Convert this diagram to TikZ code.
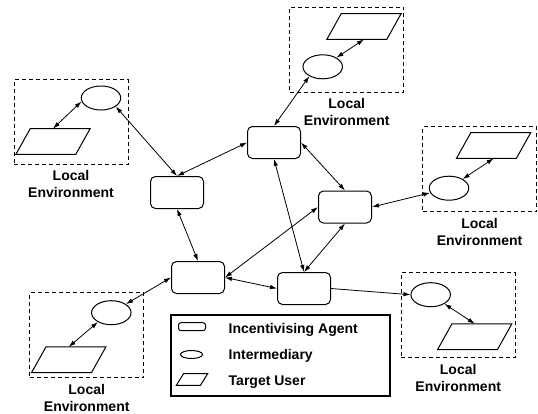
\documentclass[tikz,border=0pt]{standalone}
\usepackage{fontspec}
\setmainfont{Liberation Sans}
\usetikzlibrary{shapes.geometric,positioning,arrows.meta}

\begin{document}
\begin{tikzpicture}[x=1pt, y=-1pt, on grid, line width=0.8pt,
	>={Latex[length=7pt,width=4.5pt]},
	agent/.style={draw, rounded corners=5pt, minimum width=53pt, minimum height=32pt, inner sep=0pt, line width=1pt},
	inter/.style={draw, ellipse, minimum width=39.5pt, minimum height=24pt, inner sep=0pt, line width=1pt},
	user/.style={minimum width=73.5pt, minimum height=25pt, inner sep=0pt},
	envbox/.style={draw, dash pattern=on 4pt off 3pt, minimum width=114pt, minimum height=85pt, inner sep=0pt},
	envlabel/.style={align=center, font=\fontsize{14}{17}\selectfont\bfseries, inner sep=0pt},
	keytext/.style={anchor=base west, font=\fontsize{14}{17}\selectfont\bfseries, inner sep=0pt}]
	\useasboundingbox (0,0) rectangle (538,413);

	% agents
	\node[agent] (a2) at (274,142.5) {};
	\node[agent] (a1) [below left=50pt and 97pt of a2] {};
	\node[agent] (a3) [below right=64.5pt and 71pt of a2] {};
	\node[agent] (a4) [below right=85pt and 21pt of a1] {};
	\node[agent] (a5) [below right=11pt and 106pt of a4] {};

	% local environments
	\node[envbox] (le1) at (71,122) {};
	\node[inter] (le1i) [above right=24pt and 30pt of le1] {};
	\node[user] (le1u) [below left=19.5pt and 18pt of le1] {};
	\node[envlabel] (le1t) [below=5.5pt of le1.south] {Local\\Environment};

	\node[envbox] (le2) at (346.7,49.8) {};
	\node[inter] (le2i) [below left=17pt and 24pt of le2] {};
	\node[user] (le2u) [above right=23.3pt and 17.3pt of le2] {};
	\node[envlabel] (le2t) [below=5.5pt of le2.south] {Local\\Environment};

	\node[envbox] (le3) at (479.6,169.2) {};
	\node[inter] (le3i) [below left=19pt and 30.6pt of le3] {};
	\node[user] (le3u) [above right=23.7pt and 14pt of le3] {};
	\node[envlabel] (le3t) [below=5.5pt of le3.south] {Local\\Environment};

	\node[envbox] (le4) at (86.7,335.2) {};
	\node[inter] (le4i) [above right=22.5pt and 24.6pt of le4] {};
	\node[user] (le4u) [below left=24.6pt and 18pt of le4] {};
	\node[envlabel] (le4t) [below=5.5pt of le4.south] {Local\\Environment};

	\node[envbox] (le5) at (458.2,315.3) {};
	\node[inter] (le5i) [above left=20.6pt and 27.5pt of le5] {};
	\node[user] (le5u) [below right=21.4pt and 16.5pt of le5] {};
	\node[envlabel] (le5t) [below=5.5pt of le5.south] {Local\\Environment};

	% target users are slanted boxes
	\foreach \u in {le1u,le2u,le3u,le4u,le5u}
		\draw[line width=1pt] (\u.south west) -- ([xshift=14.4pt]\u.north west) -- (\u.north east) -- ([xshift=-14.4pt]\u.south east) -- cycle;

	% connectors
	\path[<->]
	(le1u.north) edge (le1i.190)
	(le1i.-30) edge (a1.north)
	(a1.north) edge (a2.west)
	(a1.south) edge (a4.north)
	(le2i.215) edge (a2.north)
	(le2i) edge (le2u.south)
	(a2.east) edge (a3.north)
	(a2.south) edge (a5.north)
	(a3.east) edge (le3i)
	(le3i) edge (le3u.south)
	(a3.west) edge (a4.east)
	(a3.south) edge (a5.north)
	(a4.east) edge (a5.west)
	(a4.west) edge (le4i)
	(le4i.215) edge (le4u.north)
	(le5i) edge (le5u.north);
	\draw[->] (a5.east) -- (le5i.west);

	% legend
	\node[draw, line width=1.1pt, minimum width=219pt, minimum height=81pt] (key) at (280.5,355.5) {};
	\node[agent, minimum width=27pt, minimum height=8pt, rounded corners=2.5pt] (keyagent) at (192,326.7) {};
	\node[inter, minimum width=22pt, minimum height=8pt] (keyinter) at (191.5,354.5) {};
	\node[user, minimum width=30.6pt, minimum height=11pt] (keyuser) at (192,379.5) {};
	\draw[line width=1pt] (keyuser.south west) -- ([xshift=7.3pt]keyuser.north west) -- (keyuser.north east) -- ([xshift=-7.3pt]keyuser.south east) -- cycle;
	\node[keytext] (keyagentt) at (228.3,333) {Incentivising Agent};
	\node[keytext] (keyintert) at (228.3,359.7) {Intermediary};
	\node[keytext] (keyusert) at (228.3,385.7) {Target User};
\end{tikzpicture}
\end{document}
